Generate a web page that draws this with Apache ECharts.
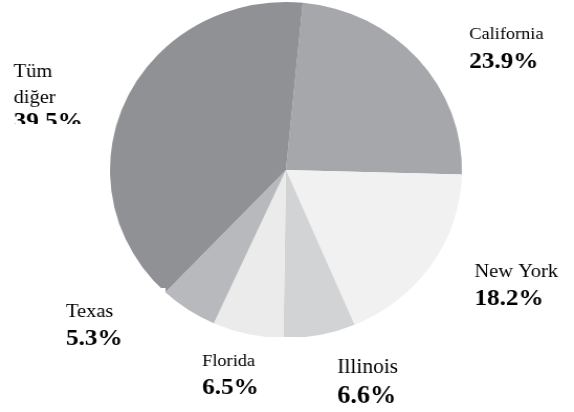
<!DOCTYPE html>
<html>
<head>
<meta charset="utf-8">
<script src="https://cdn.jsdelivr.net/npm/echarts@6/dist/echarts.min.js"></script>
<style>
  html, body { margin: 0; padding: 0; background: #fff; overflow: hidden; }
  /* drawn on a 548px-wide stage, widened to 574px like the printed figure */
  #chart { width: 548px; height: 412px; transform: scaleX(1.0474); transform-origin: 0 0; }
</style>
</head>
<body>
<div id="chart"></div>
<script>
// Share of the total, by state (percent)
const categories = ['California', 'New York', 'Illinois', 'Florida', 'Texas', 'Tüm diğer'];
const shares = [23.9, 18.2, 6.6, 6.5, 5.3, 39.5];
const labelNames = ['California', 'New York', 'Illinois', 'Florida', 'Texas', 'Tüm\ndiğer'];

// Slice greys
const sliceColors = ['#a5a7aa', '#f1f1f1', '#d2d3d4', '#ebebeb', '#b7b9bc', '#8f9195'];

// Label boxes: top-left corner, font sizes and line heights
const labelBoxes = {
  'California': { x: 448, y: 22, name: 17.5, pct: 24, nameLH: 24, pctLH: 31 },
  'New York':   { x: 453, y: 260, name: 19.5, pct: 24, nameLH: 24, pctLH: 29 },
  'Illinois':   { x: 322, y: 356, name: 20.5, pct: 25, nameLH: 24, pctLH: 33 },
  'Florida':    { x: 187, y: 337, name: 17.5, pct: 24, nameLH: 24, pctLH: 29, pad: [12, 41, 6, 6] },
  'Texas':      { x: 57, y: 288, name: 19.5, pct: 24, nameLH: 24, pctLH: 29, pad: [12, 41, 6, 6] },
  'Tüm diğer':  { x: 13, y: 59, name: 19.5, pct: 24, nameLH: 26, pctLH: 22 }
};

const serif = "'Liberation Serif', 'Times New Roman', serif";

const data = categories.map((name, i) => {
  const b = labelBoxes[name];
  const label = {
    formatter: '{n|' + labelNames[i] + '}\n{p|' + shares[i].toFixed(1) + '%}',
    rich: {
      n: { fontFamily: serif, fontSize: b.name, lineHeight: b.nameLH, color: '#000' },
      p: { fontFamily: serif, fontSize: b.pct, fontWeight: 'bold', lineHeight: b.pctLH, color: '#000' }
    }
  };
  if (b.pad) {
    label.backgroundColor = '#ffffff';
    label.padding = b.pad;
  }
  return { name: name, value: shares[i], itemStyle: { color: sliceColors[i] }, label: label };
});

const chart = echarts.init(document.getElementById('chart'), null, { renderer: 'canvas' });
chart.setOption({
  animation: false,
  backgroundColor: '#ffffff',
  series: [{
    type: 'pie',
    center: [273, 170],
    radius: [0, 168],
    startAngle: 84.5,
    clockwise: true,
    avoidLabelOverlap: false,
    itemStyle: { borderWidth: 0 },
    emphasis: { disabled: true },
    label: { show: true, position: 'outside' },
    labelLine: { show: false },
    labelLayout: function (params) {
      const b = labelBoxes[categories[params.dataIndex]];
      return { x: b.x, y: b.y, align: 'left', verticalAlign: 'top', hideOverlap: false };
    },
    data: data
  }],
  graphic: [{
    type: 'rect',
    z: 100,
    shape: { x: 0, y: 124, width: 100, height: 16 },
    style: { fill: '#ffffff' }
  }]
});
</script>
</body>
</html>
